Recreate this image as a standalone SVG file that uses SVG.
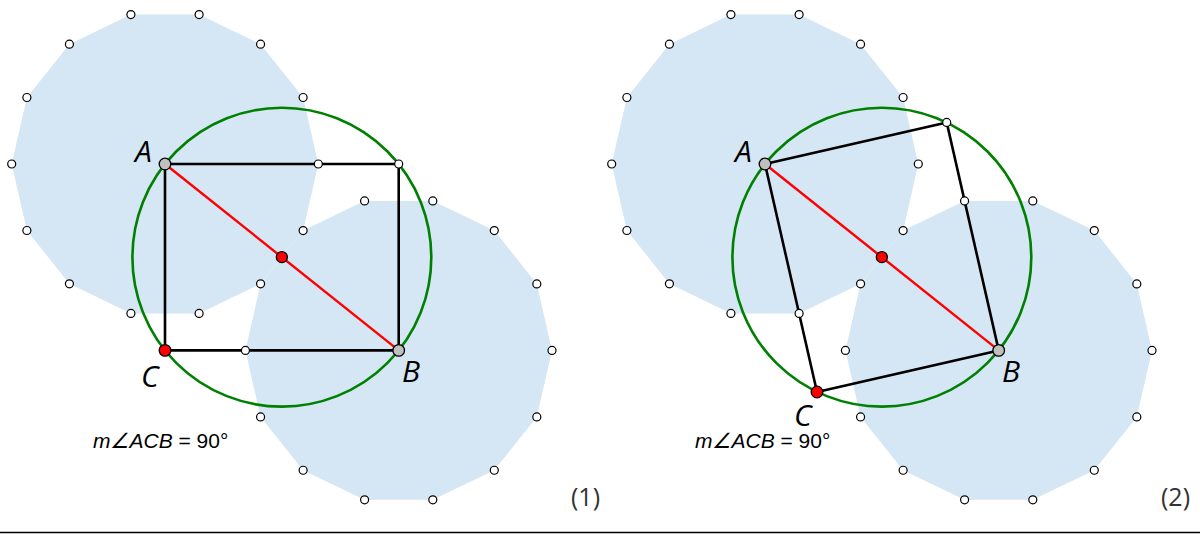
<svg xmlns="http://www.w3.org/2000/svg" xmlns:xlink="http://www.w3.org/1999/xlink" width="1200" height="535" viewBox="0 0 1200 535">
<style>
.poly{fill:#d5e6f4;stroke:none}
.circ{fill:none;stroke:#008000;stroke-width:2.6}
.sq{fill:none;stroke:#000;stroke-width:2.6;stroke-linejoin:round}
.diag{stroke:#ff0000;stroke-width:2.4}
.v{fill:#fff;stroke:#000;stroke-width:1.2}
.pg{fill:#c0c0c0;stroke:#000;stroke-width:1.3}
.pr{fill:#ff0000;stroke:#000;stroke-width:1.3}
.lbl{font-family:"Open Sans","Noto Sans",sans-serif;font-style:italic;font-size:30px;fill:#000}
.meas{font-family:"Liberation Sans",Arial,sans-serif;font-size:21px;fill:#000}
.num{font-family:"Open Sans","Noto Sans",sans-serif;font-size:25px;fill:#333}
</style>
<defs>
<polygon id="p1" class="poly" points="318.3,164 303.12,97.49 260.58,44.15 199.11,14.54 130.89,14.54 69.42,44.15 26.88,97.49 11.7,164 26.88,230.51 69.42,283.85 130.89,313.46 199.11,313.46 260.58,283.85 303.12,230.51"/>
<polygon id="p2" class="poly" points="552,350.4 536.82,283.89 494.28,230.55 432.81,200.94 364.59,200.94 303.12,230.55 260.58,283.89 245.4,350.4 260.58,416.91 303.12,470.25 364.59,499.86 432.81,499.86 494.28,470.25 536.82,416.91"/>
<g id="dots">
<circle class="v" cx="318.3" cy="164" r="4"/><circle class="v" cx="303.12" cy="97.49" r="4"/><circle class="v" cx="260.58" cy="44.15" r="4"/><circle class="v" cx="199.11" cy="14.54" r="4"/><circle class="v" cx="130.89" cy="14.54" r="4"/><circle class="v" cx="69.42" cy="44.15" r="4"/><circle class="v" cx="26.88" cy="97.49" r="4"/><circle class="v" cx="11.7" cy="164" r="4"/><circle class="v" cx="26.88" cy="230.51" r="4"/><circle class="v" cx="69.42" cy="283.85" r="4"/><circle class="v" cx="130.89" cy="313.46" r="4"/><circle class="v" cx="199.11" cy="313.46" r="4"/><circle class="v" cx="260.58" cy="283.87" r="4"/><circle class="v" cx="303.12" cy="230.53" r="4"/>
<circle class="v" cx="552" cy="350.4" r="4"/><circle class="v" cx="536.82" cy="283.89" r="4"/><circle class="v" cx="494.28" cy="230.55" r="4"/><circle class="v" cx="432.81" cy="200.94" r="4"/><circle class="v" cx="364.59" cy="200.94" r="4"/><circle class="v" cx="245.4" cy="350.4" r="4"/><circle class="v" cx="260.58" cy="416.91" r="4"/><circle class="v" cx="303.12" cy="470.25" r="4"/><circle class="v" cx="364.59" cy="499.86" r="4"/><circle class="v" cx="432.81" cy="499.86" r="4"/><circle class="v" cx="494.28" cy="470.25" r="4"/><circle class="v" cx="536.82" cy="416.91" r="4"/>
</g>
</defs>

<g id="panel1">
<use xlink:href="#p1"/>
<use xlink:href="#p2"/>
<circle class="circ" cx="281.85" cy="257.2" r="149.45"/>
<polygon class="sq" points="165,164 398.7,164 398.7,350.4 165,350.4"/>
<line class="diag" x1="165" y1="164" x2="398.7" y2="350.4"/>
<use xlink:href="#dots"/>
<circle class="v" cx="398.7" cy="164" r="4"/>
<circle class="pr" cx="281.85" cy="257.2" r="5.5"/>
<circle class="pg" cx="165" cy="164" r="5.8"/>
<circle class="pg" cx="398.7" cy="350.4" r="5.8"/>
<circle class="pr" cx="165" cy="350.4" r="5.8"/>
<text class="lbl" x="135" y="162">A</text>
<text class="lbl" x="402" y="382">B</text>
<text class="lbl" x="141" y="387">C</text>
<text class="meas" x="93" y="448"><tspan font-style="italic">m∠ACB</tspan> = 90°</text>
<text class="num" x="571" y="506">(1)</text>
</g>

<g id="panel2">
<use xlink:href="#p1" transform="translate(600,0)"/>
<use xlink:href="#p2" transform="translate(600,0)"/>
<circle class="circ" cx="881.85" cy="257.2" r="149.45"/>
<polygon class="sq" points="765,164 946.7,122.4 998.7,350.4 817,392"/>
<line class="diag" x1="765" y1="164" x2="998.7" y2="350.4"/>
<use xlink:href="#dots" transform="translate(600,0)"/>
<circle class="v" cx="946.7" cy="122.4" r="4"/>
<circle class="pr" cx="881.85" cy="257.2" r="5.5"/>
<circle class="pg" cx="765" cy="164" r="5.8"/>
<circle class="pg" cx="998.7" cy="350.4" r="5.8"/>
<circle class="pr" cx="817" cy="392" r="5.8"/>
<text class="lbl" x="735" y="162">A</text>
<text class="lbl" x="1002" y="382">B</text>
<text class="lbl" x="794" y="426">C</text>
<text class="meas" x="695" y="448"><tspan font-style="italic">m∠ACB</tspan> = 90°</text>
<text class="num" x="1161" y="506">(2)</text>
</g>

<line x1="0" y1="532.5" x2="1200" y2="532.5" stroke="#000" stroke-width="1.5"/>
</svg>
